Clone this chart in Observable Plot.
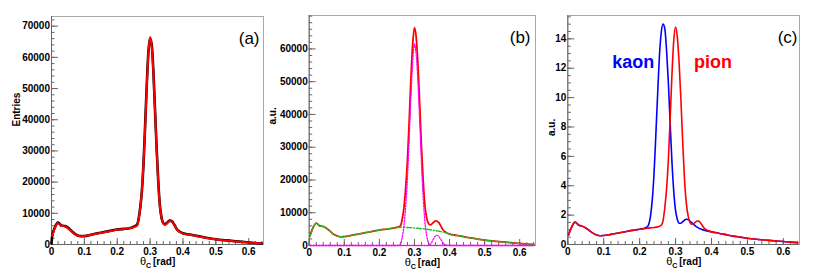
<!DOCTYPE html>
<html><head><meta charset="utf-8">
<script src="https://cdn.jsdelivr.net/npm/d3@7"></script>
<script src="https://cdn.jsdelivr.net/npm/@observablehq/plot@0.6"></script>
<style>
html,body{margin:0;padding:0;background:#fff;}
#chart{position:relative;width:817px;height:277px;overflow:hidden;}
#chart svg{position:absolute;top:0;overflow:visible;}
</style></head><body><div id="chart"></div>
<script>
// ---------- data ----------
const theta = [0.002,0.01,0.02,0.03,0.04,0.05,0.06,0.07,0.08,0.09,
  0.10,0.12,0.14,0.16,0.18,0.20,0.22,0.24,0.25,0.26,
  0.265,0.27,0.275,0.28,0.285,0.29,0.295,0.30,0.305,0.31,
  0.315,0.32,0.325,0.33,0.335,0.34,0.345,0.35,0.355,0.36,
  0.365,0.37,0.375,0.38,0.39,0.40,0.42,0.44,0.46,0.48,
  0.50,0.52,0.54,0.56,0.58,0.60,0.62,0.64];

// (a) fitted curve (red) and measured entries (black)
const fitA = [2800,5200,6800,6000,5800,5200,4300,3400,2900,2650,
  2700,3100,3500,3900,4300,4700,5000,5300,5550,6000,
  8000,11500,17500,26000,38000,51000,61500,66500,63500,55000,
  43000,30000,19500,12000,8300,6700,6300,6600,7100,7500,
  7400,6900,6000,5000,4000,3500,3100,2700,2300,1950,
  1650,1400,1200,1000,800,620,450,300];
const thetaData = [0].concat(theta);
const entriesData = [300,
  2600,5400,7000,6100,5900,5400,4400,3500,2900,2700,
  2700,3100,3600,4000,4400,4800,5000,5300,5700,6300,
  8200,11800,17200,26000,38500,51500,62000,66000,64000,55500,
  43000,30500,19800,12300,8500,6900,6500,6800,7300,7700,
  7500,7000,6100,5100,4100,3600,3200,2800,2400,2000,
  1700,1450,1250,1050,850,650,480,320];

// (b) fit decomposition: total (red) = background (green) + peaks (magenta)
const totalB = fitA;
const backgroundB = [2800,5200,6800,6000,5800,5200,4300,3400,2900,2650,
  2700,3100,3500,3900,4300,4700,5000,5300,5500,5550,
  5550,5550,5520,5500,5470,5440,5400,5350,5300,5250,
  5200,5150,5100,5030,4960,4880,4800,4720,4640,4550,
  4450,4350,4250,4150,3900,3500,3100,2700,2300,1950,
  1650,1400,1200,1000,800,620,450,300];
const peak1B = [0,0,0,0,0,0,0,0,0,0,
  0,0,0,0,0,0,0,0,0,300,
  2400,6000,12000,20500,32500,45500,56000,61500,58200,49700,
  37800,24900,14500,7000,3000,800,100,0,0,0,
  0,0,0,0,0,0,0,0,0,0,
  0,0,0,0,0,0,0,0];
const peak2B = [0,0,0,0,0,0,0,0,0,0,
  0,0,0,0,0,0,0,0,0,0,
  0,0,0,0,0,0,0,0,0,0,
  0,0,0,0,0,0,300,1100,2100,2900,
  3100,2700,1900,1000,150,0,0,0,0,0,
  0,0,0,0,0,0,0,0];

// (c) pion (red) and kaon (blue) templates
const pionC = [0.65,1.15,1.52,1.33,1.25,1.12,0.95,0.77,0.65,0.60,
  0.61,0.69,0.78,0.87,0.96,1.04,1.11,1.16,1.20,1.30,
  1.6,2.5,3.8,5.8,8.6,11.6,13.9,14.8,14.1,12.3,
  9.8,6.9,4.4,2.8,1.95,1.5,1.38,1.42,1.52,1.6,
  1.58,1.45,1.27,1.1,0.95,0.86,0.77,0.67,0.57,0.50,
  0.43,0.37,0.32,0.28,0.24,0.20,0.16,0.13];
const thetaK = [0.002,0.01,0.02,0.03,0.04,0.05,0.06,0.07,0.08,0.09,
  0.10,0.12,0.14,0.16,0.18,0.20,0.21,0.215,
  0.22,0.225,0.23,0.235,0.24,0.245,0.25,0.255,0.26,0.265,0.27,0.275,0.28,0.285,
  0.29,0.295,0.30,0.305,0.31,0.315,0.32,0.325,0.33,0.335,0.34,
  0.35,0.36,0.37,0.38,0.39,0.40,
  0.42,0.44,0.46,0.48,0.50,0.52,0.54,0.56,0.58,0.60,0.62,0.64];
const kaonC = [0.65,1.15,1.52,1.33,1.25,1.12,0.95,0.77,0.65,0.60,
  0.61,0.69,0.78,0.87,0.96,1.04,1.08,1.12,
  1.18,1.35,1.9,3.0,4.8,7.4,10.2,12.8,14.4,15.0,14.7,13.2,11.0,8.2,
  5.6,3.6,2.3,1.7,1.45,1.45,1.55,1.66,1.72,1.7,1.6,
  1.38,1.18,1.05,0.97,0.91,0.86,
  0.77,0.67,0.57,0.50,0.43,0.37,0.32,0.28,0.24,0.20,0.16,0.13];

// ticks and labels
const xTicks = [0,0.1,0.2,0.3,0.4,0.5,0.6];
const xTickLabels = ["0","0.1","0.2","0.3","0.4","0.5","0.6"];
const yTicksA = [0,10000,20000,30000,40000,50000,60000,70000];
const yTickLabelsA = ["0","10000","20000","30000","40000","50000","60000","70000"];
const yTicksB = [0,10000,20000,30000,40000,50000,60000];
const yTickLabelsB = ["0","10000","20000","30000","40000","50000","60000"];
const yTicksC = [0,2,4,6,8,10,12,14];
const yTickLabelsC = ["0","2","4","6","8","10","12","14"];
const xTitleParts = ["θ","C","[rad]"];
const yTitles = ["Entries","a.u.","a.u."];
const panelTags = ["(a)","(b)","(c)"];
const speciesLabels = [{name:"kaon", x:0.182, y:12.4}, {name:"pion", x:0.404, y:12.4}];

// ---------- helpers ----------
const FONT = '"Liberation Sans", Arial, Helvetica, sans-serif';
const XMAX = 0.645;

function frameMarks(yTicks, yLabels, yMinor, xMinor, yTitle, yTitleDx, yTitleDy, tag, tagDx) {
  return [
    Plot.frame({stroke: "#a8a8a8"}),
    Plot.ruleX([0], {stroke: "#666"}),
    Plot.ruleY([0], {stroke: "#666"}),
    // minor + major ticks, pointing inwards
    Plot.axisX({ticks: xMinor, tickSize: -3, tickFormat: () => "", label: null, stroke: "#666"}),
    Plot.axisX({ticks: xTicks, tickSize: -6, tickFormat: () => "", label: null, stroke: "#666"}),
    Plot.axisY({ticks: yMinor, tickSize: -3.5, tickFormat: () => "", label: null, stroke: "#666"}),
    Plot.axisY({ticks: yTicks, tickSize: -7, tickFormat: () => "", label: null, stroke: "#666"}),
    // labels
    Plot.axisX({ticks: xTicks, tickSize: 0, tickPadding: 3.5, tickFormat: (d, i) => xTickLabels[i], label: null, fill: "#000"}),
    Plot.axisY({ticks: yTicks, tickSize: 0, tickPadding: 1.5, tickFormat: (d, i) => yLabels[i], label: null, fill: "#000"}),
    Plot.text([xTitleParts[0]], {frameAnchor: "bottom", text: d => d, dx: -17.5, dy: 20, textAnchor: "start", fontWeight: "normal", fontSize: 11}),
    Plot.text([xTitleParts[1]], {frameAnchor: "bottom", text: d => d, dx: -11.5, dy: 23, textAnchor: "start", fontSize: 7}),
    Plot.text([xTitleParts[2]], {frameAnchor: "bottom", text: d => d, dx: -4.5, dy: 20, textAnchor: "start"}),
    Plot.text([yTitle], {frameAnchor: "left", text: d => d, rotate: -90, dx: yTitleDx, dy: yTitleDy}),
    Plot.text([tag], {frameAnchor: "top-right", text: d => d, dx: tagDx, dy: 15, textAnchor: "end", fontSize: 17, fontWeight: "normal"})
  ];
}

const xMinor = d3.range(0, XMAX, 0.02);
const baseStyle = {fontFamily: FONT, fontSize: "10px", fontWeight: "bold", background: "transparent", overflow: "visible"};

// ---------- panel (a) ----------
const pa = Plot.plot({
  width: 272, height: 277,
  marginLeft: 51, marginRight: 9, marginTop: 16, marginBottom: 33,
  style: baseStyle,
  x: {domain: [0, XMAX], axis: null},
  y: {domain: [0, 73100], axis: null},
  marks: [
    ...frameMarks(yTicksA, yTickLabelsA, d3.range(0, 73001, 2000), xMinor, yTitles[0], -35, -4, panelTags[0], -4),
    Plot.line(thetaData, {x: thetaData, y: entriesData, stroke: "#000", strokeWidth: 2.6, curve: "monotone-x"}),
    Plot.dot(thetaData, {x: thetaData, y: entriesData, r: 1, fill: "#000"}),
    Plot.line(theta, {x: theta, y: fitA, stroke: "#ff0000", strokeWidth: 2, curve: "monotone-x"})
  ]
});
pa.style.left = "0px";

// ---------- panel (b) ----------
const pb = Plot.plot({
  width: 282, height: 277,
  marginLeft: 46.7, marginRight: 9, marginTop: 15, marginBottom: 32,
  style: baseStyle,
  x: {domain: [0, XMAX], axis: null},
  y: {domain: [0, 70200], axis: null},
  marks: [
    ...frameMarks(yTicksB, yTickLabelsB, d3.range(0, 70001, 2000), xMinor, yTitles[1], -36.7, -6, panelTags[1], -5),
    Plot.line(theta, {x: theta, y: totalB, stroke: "#ff0000", strokeWidth: 1.8, curve: "monotone-x"}),
    Plot.line(theta, {x: theta, y: backgroundB, stroke: "#22c022", strokeWidth: 1.4, strokeDasharray: "5,2,1,2", curve: "monotone-x"}),
    Plot.line(theta, {x: theta, y: peak1B, stroke: "#ff00ff", strokeWidth: 1.3, strokeDasharray: "1.5,1.5", curve: "monotone-x"}),
    Plot.line(theta, {x: theta, y: peak2B, stroke: "#ff00ff", strokeWidth: 1.3, strokeDasharray: "1.5,1.5", curve: "monotone-x"})
  ]
});
pb.style.left = "262px";

// ---------- panel (c) ----------
const pc = Plot.plot({
  width: 273, height: 277,
  marginLeft: 23.3, marginRight: 18, marginTop: 15, marginBottom: 33,
  style: baseStyle,
  x: {domain: [0, XMAX], axis: null},
  y: {domain: [0, 15.59], axis: null},
  marks: [
    ...frameMarks(yTicksC, yTickLabelsC, d3.range(0, 15.6, 0.5), xMinor, yTitles[2], -16.5, 6, panelTags[2], -2),
    Plot.line(thetaK, {x: thetaK, y: kaonC, stroke: "#0000ff", strokeWidth: 1.6, curve: "monotone-x"}),
    Plot.line(theta, {x: theta, y: pionC, stroke: "#ff0000", strokeWidth: 1.6, curve: "monotone-x"}),
    Plot.text(speciesLabels, {x: "x", y: "y", text: "name", fill: (d, i) => i === 0 ? "#0000ff" : "#ff0000", fontSize: 18, fontWeight: "bold"})
  ]
});
pc.style.left = "544px";

const chart = document.getElementById("chart");
chart.append(pa, pb, pc);
</script>
</body></html>
